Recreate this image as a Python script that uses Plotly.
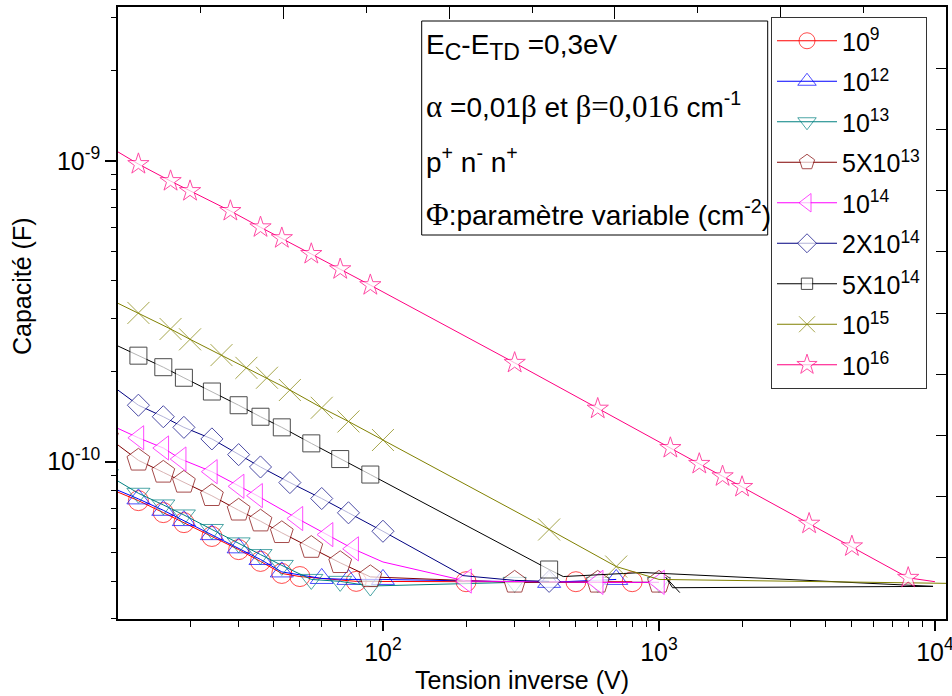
import plotly.graph_objects as go

# ---------------- data ----------------
x_1e9 = [10, 13, 16, 19, 24, 30, 36, 43, 50, 80, 200, 500, 800]
c_1e9 = [8.20e-11, 7.42e-11, 6.77e-11, 6.27e-11, 5.64e-11, 5.10e-11, 4.66e-11, 4.25e-11,
         4.15e-11, 4.00e-11, 3.99e-11, 3.99e-11, 3.99e-11]

x_1e12 = [10, 13, 16, 19, 24, 30, 36, 43, 60, 75, 100, 400, 700]
c_1e12 = [8.32e-11, 7.52e-11, 6.89e-11, 6.37e-11, 5.72e-11, 5.17e-11, 4.73e-11, 4.30e-11,
          4.09e-11, 4.06e-11, 4.06e-11, 3.97e-11, 4.06e-11]

x_1e13 = [10, 13, 16, 19, 24, 30, 36, 43, 55, 70, 90, 300, 600, 1000]
c_1e13 = [9.06e-11, 7.85e-11, 7.18e-11, 6.65e-11, 5.95e-11, 5.37e-11, 4.91e-11, 4.52e-11,
          4.06e-11, 4.00e-11, 3.86e-11, 3.97e-11, 3.97e-11, 3.97e-11]

x_5e13 = [10, 13, 16, 19, 24, 30, 36, 43, 55, 70, 90, 300, 600, 1000]
c_5e13 = [1.21e-10, 1.01e-10, 9.21e-11, 8.53e-11, 7.70e-11, 6.89e-11, 6.34e-11, 5.80e-11,
          5.18e-11, 4.61e-11, 4.14e-11, 3.97e-11, 3.97e-11, 3.97e-11]

x_1e14 = [10, 13, 16, 18.5, 24, 30, 35, 49, 63, 78, 100, 200, 600, 1000]
c_1e14 = [1.34e-10, 1.20e-10, 1.11e-10, 1.02e-10, 9.26e-11, 8.28e-11, 7.71e-11, 6.47e-11,
          5.72e-11, 5.13e-11, 4.64e-11, 4.01e-11, 3.97e-11, 3.97e-11]

x_2e14 = [10, 13, 16, 19, 24, 30, 36, 46, 60, 75, 100, 195, 300, 400]
c_2e14 = [1.84e-10, 1.54e-10, 1.41e-10, 1.30e-10, 1.19e-10, 1.055e-10, 9.60e-11, 8.52e-11,
          7.54e-11, 6.76e-11, 5.87e-11, 4.18e-11, 4.03e-11, 4.00e-11]

x_5e14 = [10, 13, 16, 19, 24, 30, 36, 43, 55, 70, 90, 400, 450, 875, 9840, 1120, 1060, 1190]
c_5e14 = [2.52e-10, 2.25e-10, 2.06e-10, 1.90e-10, 1.71e-10, 1.54e-10, 1.41e-10, 1.30e-10,
          1.15e-10, 1.02e-10, 9.06e-11, 4.38e-11, 4.15e-11, 4.28e-11, 3.85e-11, 3.81e-11,
          4.12e-11, 3.67e-11]

x_1e15 = [10, 13, 17, 20, 26, 32, 38, 46, 60, 75, 100, 400, 700, 1000, 11000]
c_1e15 = [3.50e-10, 3.12e-10, 2.76e-10, 2.55e-10, 2.26e-10, 2.05e-10, 1.90e-10, 1.73e-10,
          1.51e-10, 1.36e-10, 1.18e-10, 5.95e-11, 4.48e-11, 4.06e-11, 3.94e-11]

x_1e16 = [10, 13, 17, 20, 28, 36, 43, 55, 70, 90, 300, 600, 1100, 1400, 1700, 2000, 3500,
          5000, 8000, 10000]
c_1e16 = [1.125e-9, 9.75e-10, 8.56e-10, 7.93e-10, 6.81e-10, 6.01e-10, 5.53e-10, 4.90e-10,
          4.36e-10, 3.86e-10, 2.13e-10, 1.50e-10, 1.11e-10, 9.83e-11, 8.94e-11, 8.24e-11,
          6.22e-11, 5.23e-11, 4.11e-11, 3.99e-11]

series_names = ["10<sup>9</sup>", "10<sup>12</sup>", "10<sup>13</sup>", "5X10<sup>13</sup>",
                "10<sup>14</sup>", "2X10<sup>14</sup>", "5X10<sup>14</sup>", "10<sup>15</sup>",
                "10<sup>16</sup>"]
series_x = [x_1e9, x_1e12, x_1e13, x_5e13, x_1e14, x_2e14, x_5e14, x_1e15, x_1e16]
series_c = [c_1e9, c_1e12, c_1e13, c_5e13, c_1e14, c_2e14, c_5e14, c_1e15, c_1e16]

x_tickvals = [100, 1000, 10000]
x_ticktext = ["10<sup>2</sup>", "10<sup>3</sup>", "10<sup>4</sup>"]
y_tickvals = [1e-10, 1e-9]
y_ticktext = ["10<sup>-10</sup>", "10<sup>-9</sup>"]

# ---------------- styles ----------------
colors = ["#FF0000", "#0000FF", "#008080", "#800000", "#FF00FF", "#000080", "#000000",
          "#808000", "#FF0080"]
symbols = ["circle-open", "triangle-up-open", "triangle-down-open", "pentagon", "triangle-left",
           "diamond", "square", "x-thin-open", "star"]
sizes = [20, 20, 20, 24, 21, 17, 17, 22, 16]
filled = [False, False, False, True, True, True, True, False, True]
# vertices drawn only as line corners (no visible symbol in the reference)
hidden_points = {4: [100], 5: [195, 300], 6: [450, 875, 9840, 1120, 1060, 1190],
                 7: [1000, 11000], 8: [10000]}

FONT = "Liberation Sans, Arial, sans-serif"
SERIF = "Liberation Serif, Times New Roman, serif"

fig = go.Figure()
for i, (name, xs, cs) in enumerate(zip(series_names, series_x, series_c)):
    msize = [0 if v in hidden_points.get(i, []) else sizes[i] for v in xs]
    marker = dict(symbol=symbols[i], size=msize,
                  line=dict(color=colors[i], width=1))
    marker["color"] = "white" if filled[i] else colors[i]
    fig.add_trace(go.Scatter(
        x=xs, y=cs, name=name, mode="lines+markers",
        line=dict(color=colors[i], width=1),
        marker=marker, legendgroup="g%d" % i, cliponaxis=True,
    ))

# dummy traces for the mirror axes
fig.add_trace(go.Scatter(x=[None], y=[None], xaxis="x2", yaxis="y", showlegend=False,
                         hoverinfo="skip"))
fig.add_trace(go.Scatter(x=[None], y=[None], xaxis="x", yaxis="y2", showlegend=False,
                         hoverinfo="skip"))

L, R, T, B = 118, 6, 7, 77
W, H = 952, 696
pw, ph = W - L - R, H - T - B

def px(xp):
    return (xp - L) / pw

def py(yp):
    return (H - B - yp) / ph

axis_line = dict(showline=True, linecolor="black", linewidth=1.5, showgrid=False,
                 zeroline=False)

fig.update_layout(
    width=W, height=H,
    margin=dict(l=L, r=R, t=T, b=B, autoexpand=False),
    paper_bgcolor="white", plot_bgcolor="white",
    font=dict(family=FONT, size=25, color="black"),
    xaxis=dict(type="log", range=[1.04, 4.04], tickvals=x_tickvals, ticktext=x_ticktext,
               ticks="outside", ticklen=10, tickwidth=1.5, tickcolor="black",
               tickfont=dict(size=25), automargin=False, ticklabeloverflow="allow",
               minor=dict(tickvals=[20, 30, 40, 50, 60, 70, 80, 90, 200, 300, 400, 500, 600,
                                    700, 800, 900, 2000, 3000, 4000, 5000, 6000, 7000,
                                    8000, 9000],
                          ticks="outside", ticklen=6, tickwidth=1, tickcolor="black"),
               **axis_line),
    yaxis=dict(type="log", range=[-10.523, -8.489], tickvals=y_tickvals, ticktext=y_ticktext,
               ticks="outside", ticklen=11, tickwidth=1.5, tickcolor="black",
               tickfont=dict(size=25), automargin=False,
               minor=dict(tickvals=[3e-11, 4e-11, 5e-11, 6e-11, 7e-11, 8e-11, 9e-11,
                                    2e-10, 3e-10, 4e-10, 5e-10, 6e-10, 7e-10, 8e-10, 9e-10,
                                    2e-9, 3e-9],
                          ticks="outside", ticklen=5, tickwidth=1, tickcolor="black"),
               **axis_line),
    xaxis2=dict(overlaying="x", side="top", anchor="y", range=[0, 10], tickvals=[2, 4, 6, 8],
                ticks="inside", ticklen=12, tickwidth=1, tickcolor="black",
                showticklabels=False,
                minor=dict(tickvals=[1, 3, 5, 7, 9], ticks="inside", ticklen=6,
                           tickcolor="black"),
                **axis_line),
    yaxis2=dict(overlaying="y", side="right", anchor="x", range=[0, 10],
                tickvals=[1, 2, 3, 4, 5, 6, 7, 8, 9], ticks="inside", ticklen=10,
                tickwidth=1, tickcolor="black", showticklabels=False, **axis_line),
    showlegend=True,
    legend=dict(x=px(771), y=py(17), xanchor="left", yanchor="top",
                bgcolor="white", bordercolor="#333333", borderwidth=1,
                font=dict(family=FONT, size=25), tracegroupgap=5,
                itemwidth=60, traceorder="grouped"),
)

# text box
fig.add_shape(type="rect", xref="paper", yref="paper",
              x0=px(421.7), x1=px(767.7), y0=py(235), y1=py(21),
              line=dict(color="black", width=1), fillcolor="white", layer="above")

SUB = "<sub><span style='font-size:23px'>%s</span></sub>"
GR = "<span style='font-family:%s;font-size:31px'>%%s</span>" % SERIF
box_lines = [
    "E" + SUB % "C" + "-E" + SUB % "TD" + " =0,3eV",
    GR % "α" + " =0,01" + GR % "β" + " et " + GR % "β=0,016" + " cm<sup>-1</sup>",
    "p<sup>+</sup> n<sup>-</sup> n<sup>+</sup>",
    GR % "Φ" + ":paramètre variable (cm<sup>-2</sup>)",
]
box_y = [47, 106, 160, 213]
for txt, yy in zip(box_lines, box_y):
    fig.add_annotation(text=txt, xref="paper", yref="paper", x=px(424), y=py(yy),
                       xanchor="left", yanchor="middle", showarrow=False,
                       font=dict(family=FONT, size=28, color="black"))

# axis titles
fig.add_annotation(text="Capacité (F)", xref="paper", yref="paper", x=px(22), y=py(286),
                   textangle=-90, showarrow=False, xanchor="center", yanchor="middle",
                   font=dict(family=FONT, size=25))
fig.add_annotation(text="Tension inverse (V)", xref="paper", yref="paper", x=px(522),
                   y=py(680), showarrow=False, xanchor="center", yanchor="middle",
                   font=dict(family=FONT, size=25))

fig.write_html("out.html", config={"displayModeBar": False},
               post_script="document.body.style.margin='0';")
